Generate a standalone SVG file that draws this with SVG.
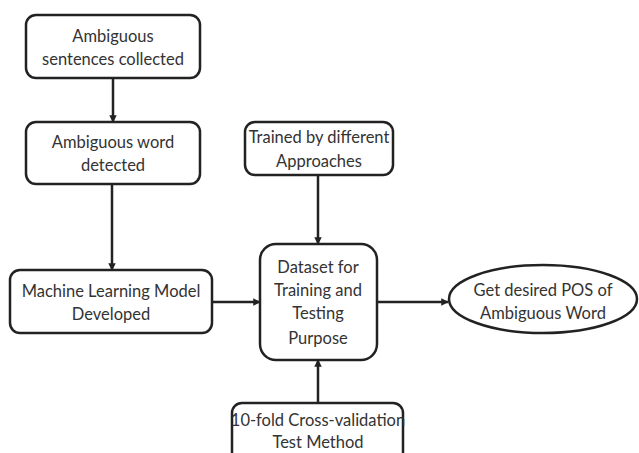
<svg xmlns="http://www.w3.org/2000/svg" width="639" height="453" viewBox="0 0 639 453">
  <style>
    .box { fill: #ffffff; stroke: #222222; stroke-width: 2.5; }
    .lbl { font-family: Lato, "Open Sans", "Liberation Sans", sans-serif; font-size: 16.5px; fill: #333333; text-anchor: middle; }
    .edge { fill: none; stroke: #222222; stroke-width: 2.5; marker-end: url(#arrow); }
  </style>
  <defs>
    <marker id="arrow" viewBox="0 0 10 10" refX="9" refY="5" markerWidth="3" markerHeight="3" orient="auto">
      <path d="M0,0 L10,5 L0,10 z" fill="#222222"/>
    </marker>
  </defs>
  <rect width="639" height="453" fill="#ffffff"/>

  <g id="connectors">
    <line class="edge" x1="113" y1="78" x2="113" y2="122"/>
    <line class="edge" x1="112" y1="184" x2="112" y2="270"/>
    <line class="edge" x1="212" y1="302" x2="260" y2="302"/>
    <line class="edge" x1="318" y1="175" x2="318" y2="244"/>
    <line class="edge" x1="377" y1="302" x2="448" y2="302"/>
    <line class="edge" x1="318" y1="403" x2="318" y2="360"/>
  </g>

  <g id="n-sentences">
    <rect class="box" x="26" y="15" width="174" height="63" rx="10"/>
    <text class="lbl" x="113" y="42">Ambiguous</text>
    <text class="lbl" x="113" y="65">sentences collected</text>
  </g>

  <g id="n-word">
    <rect class="box" x="26" y="122" width="174" height="62" rx="10"/>
    <text class="lbl" x="113" y="148">Ambiguous word</text>
    <text class="lbl" x="113" y="171">detected</text>
  </g>

  <g id="n-model">
    <rect class="box" x="10" y="270" width="202" height="63" rx="10"/>
    <text class="lbl" x="111" y="297">Machine Learning Model</text>
    <text class="lbl" x="111" y="320">Developed</text>
  </g>

  <g id="n-trained">
    <rect class="box" x="245" y="122" width="148" height="53" rx="10"/>
    <text class="lbl" x="319" y="143">Trained by different</text>
    <text class="lbl" x="319" y="167">Approaches</text>
  </g>

  <g id="n-dataset">
    <rect class="box" x="260" y="244" width="117" height="116" rx="16"/>
    <text class="lbl" x="318" y="273">Dataset for</text>
    <text class="lbl" x="318" y="296">Training and</text>
    <text class="lbl" x="318" y="319">Testing</text>
    <text class="lbl" x="318" y="344">Purpose</text>
  </g>

  <g id="n-result">
    <ellipse class="box" cx="543" cy="299" rx="94" ry="34"/>
    <text class="lbl" x="543" y="296">Get desired POS of</text>
    <text class="lbl" x="543" y="319">Ambiguous Word</text>
  </g>

  <g id="n-crossval">
    <rect class="box" x="232" y="403" width="171" height="62" rx="10"/>
    <text class="lbl" x="318" y="426">10-fold Cross-validation</text>
    <text class="lbl" x="318" y="448">Test Method</text>
  </g>
</svg>
